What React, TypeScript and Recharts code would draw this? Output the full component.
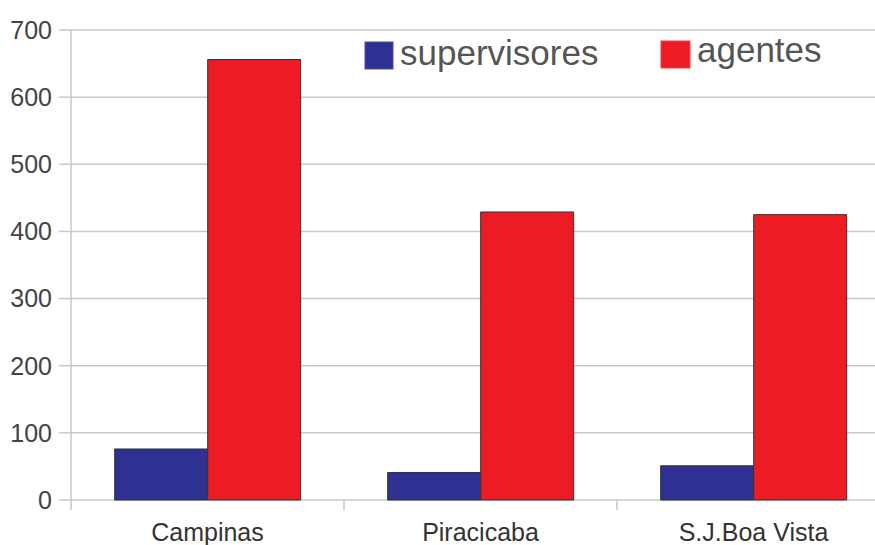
import { BarChart, Bar, XAxis, YAxis, CartesianGrid } from 'recharts';

const cities = ['Campinas', 'Piracicaba', 'S.J.Boa Vista'];
const supervisores = [76, 41, 51];
const agentes = [656, 429, 425];
const yTicks = [0, 100, 200, 300, 400, 500, 600, 700];
const sepTicks = [0, 1, 2, 3];

const BLUE = '#2e3192';
const RED = '#ed1c24';
const GRID = '#c8c8c8';

const data = cities.map((name, i) => ({
    name,
    supervisores: supervisores[i],
    agentes: agentes[i],
}));

const LegendBox = () => (
    <svg width={875} height={100} style={{ position: 'absolute', left: 0, top: 0, pointerEvents: 'none' }}>
        <rect x={365} y={42} width={28} height={27} fill={BLUE} stroke="#4a4fa8" strokeWidth={1} />
        <text x={400} y={65} fontSize={35} fill="#555" fontFamily="Liberation Sans, Arial, sans-serif">
            supervisores
        </text>
        <rect x={661} y={41} width={29} height={27} fill={RED} stroke="#e0474c" strokeWidth={1} />
        <text x={697} y={62} fontSize={35} fill="#555" fontFamily="Liberation Sans, Arial, sans-serif">
            agentes
        </text>
    </svg>
);

export default function App() {
    return (
        <div style={{ position: 'fixed', left: 0, top: 0, width: 875, height: 545, overflow: 'hidden', background: '#fff' }}>
            <BarChart
                width={893}
                height={545}
                data={data}
                margin={{ top: 30, right: 3, left: 0, bottom: 15 }}
                barCategoryGap="16%"
                barGap={0}
                style={{ fontFamily: 'Liberation Sans, Arial, sans-serif' }}
            >
                <CartesianGrid vertical={false} stroke={GRID} strokeWidth={1.5} />
                <XAxis
                    dataKey="name"
                    height={10}
                    axisLine={false}
                    tickLine={false}
                    tickSize={0}
                    tickMargin={23}
                    tick={{ fill: '#333', fontSize: 25 }}
                />
                <XAxis
                    xAxisId="sep"
                    type="number"
                    dataKey={(_: unknown, i: number) => i}
                    domain={[0, 3]}
                    ticks={sepTicks}
                    height={20}
                    axisLine={false}
                    tickSize={-10}
                    tickLine={{ stroke: GRID, strokeWidth: 1.5 }}
                    tickFormatter={() => ''}
                    allowDataOverflow
                />
                <YAxis
                    width={71}
                    domain={[0, 700]}
                    ticks={yTicks}
                    axisLine={{ stroke: GRID, strokeWidth: 1.5 }}
                    tickLine={{ stroke: GRID, strokeWidth: 1.5 }}
                    tickSize={12}
                    tickMargin={7}
                    tick={{ fill: '#444', fontSize: 25 }}
                />
                <Bar dataKey="supervisores" fill={BLUE} stroke="#333" strokeWidth={1} isAnimationActive={false} />
                <Bar dataKey="agentes" fill={RED} stroke="#333" strokeWidth={1} isAnimationActive={false} />
            </BarChart>
            <LegendBox />
        </div>
    );
}
